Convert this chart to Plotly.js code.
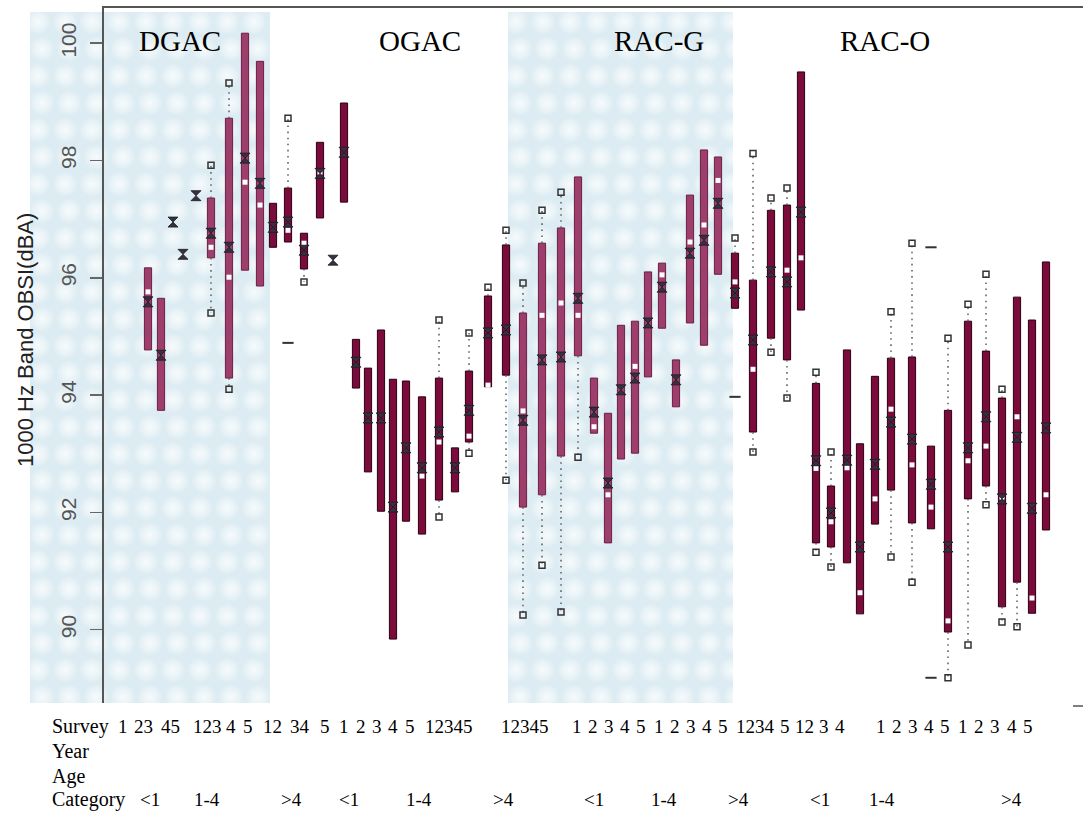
<!DOCTYPE html>
<html>
<head>
<meta charset="utf-8">
<script src="https://cdn.plot.ly/plotly-3.0.1.min.js"></script>
<style>
html,body{margin:0;padding:0;background:#fff;}
#chart{width:1083px;height:813px;}
</style>
</head>
<body>
<div id="chart"></div>
<script>
// ---------------- DATA ----------------
// x value (survey slot position) of each box
const boxX = [4.4,5.7,6.9,7.9,9.2,10.7,12.5,14.1,15.6,16.9,18.4,20.0,21.6,22.9,24.0,
  25.2,26.4,27.7,28.9,30.2,31.8,33.5,35.1,36.5,38.4,40.2,
  41.9,43.8,45.7,47.4,49.0,50.4,51.7,53.1,54.4,55.8,57.2,58.6,60.0,61.4,63.1,
  64.9,66.7,68.3,69.7,71.2,72.7,74.3,75.6,77.1,78.7,80.8,82.7,84.4,86.4,88.2,89.8,91.3,92.8,94.2];
// upper quartile
const q3 = [96.17,95.65,null,null,null,97.36,98.72,100.17,99.69,97.27,97.53,96.76,98.31,null,98.98,
  94.95,94.46,95.11,94.27,94.24,93.97,94.29,93.10,94.41,95.69,96.56,
  95.40,96.59,96.85,97.72,94.29,93.69,95.19,95.26,96.10,96.25,94.60,97.41,98.18,98.06,96.42,
  95.96,97.15,97.24,99.51,94.20,92.45,94.77,93.17,94.32,94.63,94.65,93.13,93.74,95.26,94.75,93.95,95.67,95.28,96.27];
// lower quartile
const q1 = [94.77,93.74,null,null,null,96.34,94.29,96.13,95.86,96.52,96.61,96.15,97.02,null,97.29,
  94.12,92.69,92.02,89.84,91.85,91.63,92.21,92.35,93.20,94.14,94.34,
  92.09,92.30,92.96,94.67,93.35,91.48,92.91,93.01,94.31,95.14,93.80,95.23,94.85,96.06,95.48,
  93.37,94.97,94.60,95.45,91.48,91.41,91.14,90.27,91.80,92.38,91.82,91.72,89.96,92.23,92.45,90.39,90.81,90.28,91.70];
// mean (X marker)
const meanV = [95.59,94.68,96.95,96.40,97.40,96.76,96.52,98.04,97.61,96.86,96.95,96.47,97.78,96.30,98.14,
  94.56,93.61,93.61,92.09,93.10,92.76,93.37,92.76,93.74,95.06,95.11,
  93.57,94.60,94.65,95.65,93.71,92.50,94.09,94.29,95.23,95.84,94.26,96.42,96.64,97.27,95.74,
  94.94,96.10,95.93,97.12,92.88,91.99,92.89,91.41,92.82,93.54,93.25,92.48,91.41,93.10,93.63,92.23,93.28,92.07,93.44];
// median (white square)
const medianV = [95.76,null,null,null,null,96.52,96.01,97.63,97.24,null,96.81,96.59,97.80,null,null,
  null,null,null,null,null,92.62,93.20,null,93.30,94.17,null,
  93.73,95.36,95.57,95.36,93.46,92.30,null,94.49,null,96.05,null,96.61,96.90,97.66,95.93,
  94.44,null,96.13,96.34,92.75,91.84,92.76,90.63,92.23,93.76,92.81,92.09,90.15,92.88,93.13,92.26,93.63,90.54,92.30];
// whisker ends
const whiskTop = [null,null,null,null,null,97.92,99.32,null,null,null,98.72,null,null,null,null,
  null,null,null,null,null,null,95.28,null,95.06,95.84,96.81,
  95.91,97.15,97.46,null,null,null,null,null,null,null,null,null,null,null,96.68,
  98.12,97.36,97.53,null,94.39,93.03,null,null,null,95.42,96.59,null,94.97,95.55,96.06,94.10,null,null,null];
const whiskBot = [null,null,null,null,null,95.40,94.10,null,null,null,null,95.93,null,null,null,
  null,null,null,null,null,null,91.92,null,93.01,null,92.55,
  90.25,91.10,90.30,92.94,null,null,null,null,null,null,null,null,null,null,null,
  93.03,94.73,93.95,null,91.32,91.07,null,null,null,91.24,90.81,null,89.18,89.74,92.13,90.13,90.05,null,null];
// outliers (dash marks): index of box and value
const outlierBox = [10,40,52,52];
const outlierVal = [94.89,93.97,96.52,89.18];

const groupNames = ["DGAC","OGAC","RAC-G","RAC-O"];
const surveyLabels = ["1","23","45","123","4","5","12","34","5","1","2","3","4","5","12345","12345",
  "1","2","3","4","5","1","2","3","4","5","1234","5","12","3","4","1","2","3","4","5","1","2","3","4","5"];
const ageLabels = ["<1","1-4",">4","<1","1-4",">4","<1","1-4",">4","<1","1-4",">4"];
const rowNames = ["Survey","Year","Age","Category"];
const yTicks = [90,92,94,96,98,100];

// ---------------- LAYOUT HELPERS ----------------
const W = 1083, H = 813, ML = 104, MR = 0, MT = 8, MB = 110;
const PW = W - ML - MR, PH = H - MT - MB;
const X_RANGE = [0, 97.9];
const Y_RANGE = [88.75, 100.6];
const px2paperX = px => (px - ML) / PW;
const py2paperY = py => (H - MB - py) / PH;
const u2paper = u => (u - X_RANGE[0]) / (X_RANGE[1] - X_RANGE[0]);

const panels = [[-7.4, 16.6], [40.4, 62.9]];   // shaded bands in x units
const panelTopPx = 12;
const inPanel = x => panels.some(p => x >= p[0] && x <= p[1]);

function panelImage(wpx, hpx) {
  const c = document.createElement('canvas');
  c.width = wpx; c.height = hpx;
  const g = c.getContext('2d');
  g.fillStyle = '#dcecf2';
  g.fillRect(0, 0, wpx, hpx);
  const step = 27;
  for (let r = 0; r * step < hpx + step; r++) {
    for (let k = 0; k * step < wpx + step; k++) {
      const cx = k * step + 8 + (r % 2 ? 4 : 0), cy = r * step + 10;
      const grad = g.createRadialGradient(cx, cy, 0, cx, cy, 13);
      grad.addColorStop(0, 'rgba(255,255,255,0.75)');
      grad.addColorStop(0.55, 'rgba(255,255,255,0.4)');
      grad.addColorStop(1, 'rgba(255,255,255,0)');
      g.fillStyle = grad;
      g.fillRect(cx - 13, cy - 13, 26, 26);
    }
  }
  return c.toDataURL();
}

// ---------------- TRACES ----------------
const boxLen = q3.map((v, i) => (v === null || q1[i] === null) ? null : v - q1[i]);
const fillCols = boxX.map(x => inPanel(x) ? '#9d3e6c' : '#7a0b3b');
const lineCols = boxX.map(x => inPanel(x) ? '#6a1f44' : '#2a0012');

const boxes = {
  type: 'bar', x: boxX, y: boxLen, base: q1, width: 0.72,
  marker: {color: fillCols, line: {color: lineCols, width: 1}},
  hoverinfo: 'skip', showlegend: false
};

const wx = [], wy = [], ex = [], ey = [];
boxX.forEach((x, i) => {
  if (whiskTop[i] !== null) { wx.push(x, x, null); wy.push(q3[i], whiskTop[i], null); ex.push(x); ey.push(whiskTop[i]); }
  if (whiskBot[i] !== null) { wx.push(x, x, null); wy.push(q1[i], whiskBot[i], null); ex.push(x); ey.push(whiskBot[i]); }
});
const whiskers = {
  type: 'scatter', mode: 'lines', x: wx, y: wy, connectgaps: false,
  line: {color: '#666', width: 1.6, dash: '1.6px,4.5px'}, hoverinfo: 'skip', showlegend: false
};
const whiskEnds = {
  type: 'scatter', mode: 'markers', x: ex, y: ey,
  marker: {symbol: 'square-open', size: 6, color: '#333', line: {width: 1.5, color: '#333'}},
  hoverinfo: 'skip', showlegend: false
};
const medians = {
  type: 'scatter', mode: 'markers', x: boxX, y: medianV,
  marker: {symbol: 'square', size: 5, color: '#ffffff', line: {width: 0}},
  hoverinfo: 'skip', showlegend: false
};
const means = {
  type: 'scatter', mode: 'markers', x: boxX, y: meanV,
  marker: {symbol: 'hourglass', size: 10, color: '#35313f', line: {width: 0.8, color: '#1d1a26'}},
  hoverinfo: 'skip', showlegend: false
};
const outliers = {
  type: 'scatter', mode: 'markers', x: outlierBox.map(i => boxX[i]), y: outlierVal,
  marker: {symbol: 'line-ew', size: 8, color: '#333', line: {width: 2, color: '#333'}},
  hoverinfo: 'skip', showlegend: false
};

// ---------------- ANNOTATIONS ----------------
const serif = 'Liberation Serif, Times New Roman, serif';
const sans = 'Liberation Sans, Arial, sans-serif';
const annotations = [];
const groupCenterPx = [180, 420, 659, 885];
groupNames.forEach((t, i) => annotations.push({
  text: t, xref: 'paper', yref: 'paper', x: px2paperX(groupCenterPx[i]), y: py2paperY(41),
  xanchor: 'center', yanchor: 'middle', showarrow: false, font: {family: serif, size: 29, color: '#000'}
}));
annotations.push({
  text: '1000 Hz Band OBSI(dBA)', textangle: -90, xref: 'paper', yref: 'paper',
  x: px2paperX(25), y: py2paperY(340), xanchor: 'center', yanchor: 'middle', showarrow: false,
  font: {family: sans, size: 22, color: '#222'}
});
const rowCenterPy = [726, 751, 776, 799];
rowNames.forEach((t, i) => annotations.push({
  text: t, xref: 'paper', yref: 'paper', x: px2paperX(50), y: py2paperY(rowCenterPy[i]),
  xanchor: 'left', yanchor: 'middle', showarrow: false, font: {family: serif, size: 20, color: '#000'}
}));
const surveyPx = [123,143,170,207,231,248,272,300,325,344,361,377,393,410,449,525,
  577,593,609,625,641,659,675,691,707,723,755,785,804,824,840,881,897,913,929,945,963,979,995,1012,1028];
surveyLabels.forEach((t, i) => annotations.push({
  text: t, xref: 'paper', yref: 'paper', x: px2paperX(surveyPx[i]), y: py2paperY(rowCenterPy[0]),
  xanchor: 'center', yanchor: 'middle', showarrow: false, font: {family: serif, size: 19, color: '#000'}
}));
const agePx = [150, 207, 291, 349, 419, 503, 594, 664, 738, 820, 882, 1011];
ageLabels.forEach((t, i) => annotations.push({
  text: t.replace('<', '&lt;').replace('>', '&gt;'), xref: 'paper', yref: 'paper', x: px2paperX(agePx[i]), y: py2paperY(rowCenterPy[3]),
  xanchor: 'center', yanchor: 'middle', showarrow: false, font: {family: serif, size: 19, color: '#000'}
}));

// ---------------- SHADED PANELS (images) ----------------
const images = panels.map(p => {
  const wpx = Math.round((p[1] - p[0]) / (X_RANGE[1] - X_RANGE[0]) * PW);
  const hpx = Math.round(H - MB - panelTopPx);
  return {
    source: panelImage(wpx, hpx), xref: 'paper', yref: 'paper',
    x: u2paper(p[0]), y: py2paperY(panelTopPx), sizex: wpx / PW, sizey: hpx / PH,
    xanchor: 'left', yanchor: 'top', sizing: 'stretch', layer: 'below'
  };
});

const layout = {
  width: W, height: H,
  margin: {l: ML, r: MR, t: MT, b: MB, pad: 0},
  paper_bgcolor: '#ffffff', plot_bgcolor: 'rgba(0,0,0,0)',
  barmode: 'overlay', showlegend: false, hovermode: false,
  xaxis: {range: X_RANGE, showgrid: false, zeroline: false, showticklabels: false, ticks: '',
    showline: true, side: 'top', linecolor: '#555', linewidth: 2, fixedrange: true},
  yaxis: {range: Y_RANGE, showgrid: false, zeroline: false, showline: true, linecolor: '#555', linewidth: 2,
    ticks: 'outside', ticklen: 12, tickwidth: 1.5, tickcolor: '#666', tickvals: yTicks,
    ticktext: yTicks.map(String), tickangle: -90, ticklabelstandoff: 6,
    tickfont: {family: sans, size: 21, color: '#555'}, fixedrange: true},
  images: images,
  annotations: annotations,
  shapes: [{type: 'line', xref: 'paper', yref: 'paper', x0: px2paperX(1073), x1: px2paperX(1083),
    y0: py2paperY(706), y1: py2paperY(706), line: {color: '#555', width: 1.5}}]
};

Plotly.newPlot('chart', [boxes, whiskers, whiskEnds, medians, means, outliers], layout,
  {displayModeBar: false, staticPlot: true});
</script>
</body>
</html>
